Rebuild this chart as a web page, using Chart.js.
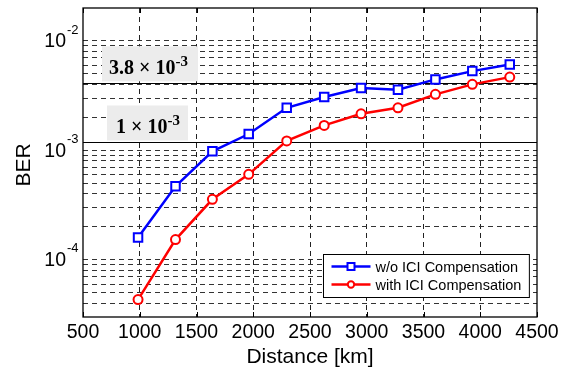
<!DOCTYPE html>
<html lang="en">
<head>
    <meta charset="UTF-8">
    <title>BER vs Distance</title>
    <script src="https://cdn.jsdelivr.net/npm/chart.js"></script>
    <style>
        * {
            margin: 0;
            padding: 0;
        }

        body {
            background-color: #fff;
        }
    </style>
</head>
<body>
    <canvas id="berChart" width="561" height="370"></canvas>

    <script>
        // values
        const distance = [985, 1315, 1640, 1960, 2295, 2625, 2950, 3275, 3605, 3930, 4260];
        const berNoComp = [1.60e-4, 4.7e-4, 9.8e-4, 1.41e-3, 2.45e-3, 3.07e-3, 3.71e-3, 3.58e-3, 4.45e-3, 5.30e-3, 6.10e-3];
        const berComp = [4.33e-5, 1.53e-4, 3.57e-4, 6.04e-4, 1.22e-3, 1.69e-3, 2.16e-3, 2.45e-3, 3.25e-3, 4.01e-3, 4.67e-3];

        const seriesLabels = ['w/o ICI Compensation', 'with ICI Compensation'];
        const xTicks = [500, 1000, 1500, 2000, 2500, 3000, 3500, 4000, 4500];
        const yMajor = [1e-4, 1e-3, 1e-2];
        const yMajorExp = ['-4', '-3', '-2'];
        const yDecades = [-5, -4, -3, -2];
        const yMantissa = [1, 2, 3, 4, 5, 6, 7, 8, 9];

        // horizontal reference lines and their boxed captions
        const thresholdValues = [4.1e-3, 1.18e-3];
        const thresholdText = ['3.8 \u00d7 10', '1 \u00d7 10'];
        const thresholdExp = ['-3', '-3'];

        const X_MIN = 500, X_MAX = 4500, Y_MIN = 3e-5, Y_MAX = 2e-2;
        const sans = "'Liberation Sans', Arial, Helvetica, sans-serif";
        const serif = "'Liberation Serif', 'Times New Roman', serif";

        let yGrid = [];
        yDecades.forEach(function (e) {
            yMantissa.forEach(function (m) {
                const v = parseFloat((m * Math.pow(10, e)).toPrecision(3));
                if (v > Y_MIN * 1.001 && v < Y_MAX * 0.999) yGrid.push(v);
            });
        });

        const labelsPlugin = {
            id: 'berLabels',
            beforeDatasetsDraw(chart) {
                const ctx = chart.ctx;
                const area = chart.chartArea;
                const y = chart.scales.y;
                ctx.save();

                // reference lines
                ctx.strokeStyle = '#000';
                ctx.lineWidth = 1;
                thresholdValues.forEach(function (v) {
                    const py = Math.round(y.getPixelForValue(v)) + 0.5;
                    ctx.beginPath();
                    ctx.moveTo(area.left, py);
                    ctx.lineTo(area.right, py);
                    ctx.stroke();
                });

                // gray caption boxes sitting on the lines
                const boxes = [
                    { x: area.left + 19, w: 96, h: 35, tx: 7 },
                    { x: area.left + 24, w: 81, h: 35, tx: 9 }
                ];
                thresholdValues.forEach(function (v, i) {
                    const py = y.getPixelForValue(v);
                    const b = boxes[i];
                    const top = py - 2 - b.h;
                    ctx.fillStyle = '#ececec';
                    ctx.fillRect(b.x, top, b.w, b.h);
                    ctx.fillStyle = '#000';
                    ctx.textBaseline = 'alphabetic';
                    ctx.textAlign = 'left';
                    ctx.font = 'bold 20px ' + serif;
                    const base = top + 28;
                    ctx.fillText(thresholdText[i], b.x + b.tx, base);
                    const w = ctx.measureText(thresholdText[i]).width;
                    ctx.font = 'bold 15px ' + serif;
                    ctx.fillText(thresholdExp[i], b.x + b.tx + w, base - 8);
                });
                ctx.restore();
            },
            afterDraw(chart) {
                const ctx = chart.ctx;
                const area = chart.chartArea;
                const x = chart.scales.x;
                const y = chart.scales.y;
                ctx.save();

                // axes frame
                ctx.strokeStyle = '#000';
                ctx.lineWidth = 1.3;
                ctx.strokeRect(area.left, area.top, area.right - area.left, area.bottom - area.top);

                // small tick marks on bottom / top
                ctx.lineWidth = 1;
                xTicks.forEach(function (t) {
                    const px = Math.round(x.getPixelForValue(t)) + 0.5;
                    ctx.beginPath();
                    ctx.moveTo(px, area.bottom);
                    ctx.lineTo(px, area.bottom - 5);
                    ctx.moveTo(px, area.top);
                    ctx.lineTo(px, area.top + 5);
                    ctx.stroke();
                });

                ctx.fillStyle = '#000';

                // x tick labels
                ctx.font = '19.5px ' + sans;
                ctx.textAlign = 'center';
                ctx.textBaseline = 'middle';
                xTicks.forEach(function (t) {
                    ctx.fillText(String(t), x.getPixelForValue(t), area.bottom + 16);
                });

                // y tick labels: 10 with superscript
                yMajor.forEach(function (v, i) {
                    const py = y.getPixelForValue(v);
                    ctx.font = '19.5px ' + sans;
                    ctx.textAlign = 'right';
                    ctx.textBaseline = 'middle';
                    ctx.fillText('10', area.left - 17, py + 1);
                    ctx.font = '13px ' + sans;
                    ctx.textAlign = 'left';
                    ctx.fillText(yMajorExp[i], area.left - 16, py - 11);
                });

                // axis titles
                ctx.font = '21px ' + sans;
                ctx.textAlign = 'center';
                ctx.textBaseline = 'middle';
                ctx.fillText('Distance [km]', (area.left + area.right) / 2, area.bottom + 40);
                ctx.save();
                ctx.translate(24, 165);
                ctx.rotate(-Math.PI / 2);
                ctx.fillText('BER', 0, 0);
                ctx.restore();

                // legend box, lower right
                ctx.font = '14.5px ' + sans;
                const sets = chart.data.datasets;
                let textW = 0;
                sets.forEach(function (d) {
                    textW = Math.max(textW, ctx.measureText(d.label).width);
                });
                const lw = 8 + 39 + 5 + textW + 8;
                const lh = 43;
                const lx = Math.round(area.right - 8 - lw) + 0.5;
                const ly = Math.round(area.bottom - 20 - lh) + 0.5;
                ctx.fillStyle = '#fff';
                ctx.fillRect(lx, ly, lw, lh);
                ctx.strokeStyle = '#000';
                ctx.lineWidth = 1;
                ctx.strokeRect(lx, ly, lw, lh);

                sets.forEach(function (d, i) {
                    const cy = ly + 12 + i * 18;
                    ctx.strokeStyle = d.borderColor;
                    ctx.lineWidth = 2.5;
                    ctx.beginPath();
                    ctx.moveTo(lx + 8, cy);
                    ctx.lineTo(lx + 47, cy);
                    ctx.stroke();
                    ctx.lineWidth = 2;
                    ctx.fillStyle = '#fff';
                    ctx.beginPath();
                    if (d.pointStyle === 'rect') {
                        ctx.rect(lx + 27.5 - 3.5, cy - 3.5, 7, 7);
                    } else {
                        ctx.arc(lx + 27.5, cy, 3.2, 0, Math.PI * 2);
                    }
                    ctx.fill();
                    ctx.stroke();
                    ctx.fillStyle = '#000';
                    ctx.textAlign = 'left';
                    ctx.textBaseline = 'middle';
                    ctx.fillText(d.label, lx + 52, cy + 1);
                });
                ctx.restore();
            }
        };

        const data = {
            datasets: [{
                label: seriesLabels[0],
                data: distance.map(function (d, i) { return { x: d, y: berNoComp[i] }; }),
                borderColor: '#0000ff',
                backgroundColor: '#fff',
                borderWidth: 2.5,
                pointStyle: 'rect',
                pointRadius: 6,
                pointBorderWidth: 2,
                pointBorderColor: '#0000ff',
                pointBackgroundColor: '#fff',
                tension: 0
            }, {
                label: seriesLabels[1],
                data: distance.map(function (d, i) { return { x: d, y: berComp[i] }; }),
                borderColor: '#ff0000',
                backgroundColor: '#fff',
                borderWidth: 2.5,
                pointStyle: 'circle',
                pointRadius: 4.5,
                pointBorderWidth: 2,
                pointBorderColor: '#ff0000',
                pointBackgroundColor: '#fff',
                tension: 0
            }]
        };

        const config = {
            type: 'line',
            data: data,
            options: {
                responsive: false,
                animation: false,
                devicePixelRatio: 1,
                layout: {
                    padding: { left: 83, right: 24, top: 7, bottom: 53 }
                },
                plugins: {
                    legend: { display: false },
                    tooltip: { enabled: false }
                },
                scales: {
                    x: {
                        type: 'linear',
                        min: X_MIN,
                        max: X_MAX,
                        afterBuildTicks: function (scale) {
                            scale.ticks = xTicks.map(function (v) { return { value: v }; });
                        },
                        ticks: { display: false },
                        grid: {
                            drawTicks: false,
                            color: function (c) {
                                const v = c.tick && c.tick.value;
                                return (v === X_MIN || v === X_MAX) ? 'rgba(0,0,0,0)' : '#222';
                            },
                            lineWidth: 1
                        },
                        border: { display: false, dash: [5, 4] }
                    },
                    y: {
                        type: 'logarithmic',
                        min: Y_MIN,
                        max: Y_MAX,
                        afterBuildTicks: function (scale) {
                            scale.ticks = yGrid.map(function (v) { return { value: v }; });
                        },
                        ticks: { display: false },
                        grid: {
                            drawTicks: false,
                            color: '#333',
                            lineWidth: 1
                        },
                        border: { display: false, dash: [5, 4] }
                    }
                }
            },
            plugins: [labelsPlugin]
        };

        const chartInstance = new Chart(document.getElementById('berChart'), config);
    </script>
</body>
</html>
